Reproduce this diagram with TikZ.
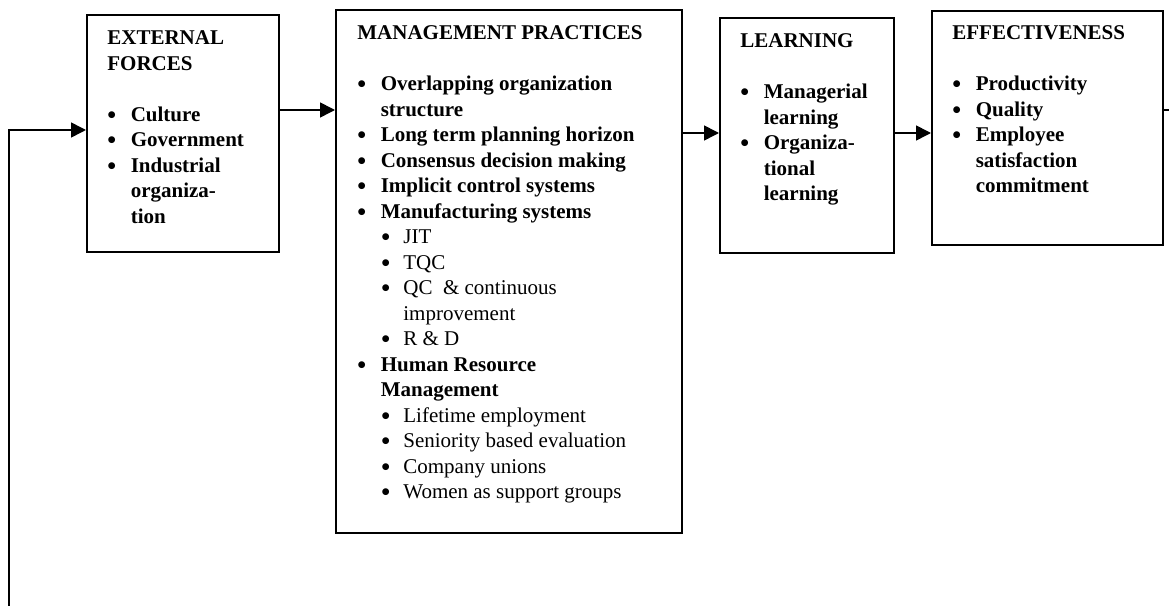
\documentclass[tikz,border=0pt]{standalone}
\usepackage{fontspec}
\usepackage{graphicx}
\setmainfont{Liberation Serif}
\usetikzlibrary{arrows.meta}
\newcommand\bigbul{\raisebox{-1pt}{\scalebox{1.2}{\textbullet}}}
\newcommand\bitem[1]{\makebox[13.4pt][l]{\bigbul}#1}
\newcommand\bcont[1]{\hspace*{13.4pt}#1}
\newcommand\sitem[1]{\hspace*{13.7pt}\makebox[12.6pt][l]{\bigbul}{\mdseries #1}}
\newcommand\scont[1]{\hspace*{26.3pt}{\mdseries #1}}
\begin{document}
\begin{tikzpicture}[x=0.5714pt,y=-0.5714pt,
  box/.style={draw, line width=0.9pt, rectangle, anchor=north west, inner sep=0pt},
  txt/.style={anchor=base west, inner sep=0pt, font=\fontsize{12pt}{14.57pt}\selectfont\bfseries},
  arr/.style={line width=0.9pt, -{Triangle[length=8.5pt,width=8.5pt]}},
  plain/.style={line width=0.9pt}]
\useasboundingbox (0,0) rectangle (1169,606);
% boxes
\node[box, minimum width=192*0.5714pt, minimum height=237*0.5714pt] (ef) at (86,14) {};
\node[box, minimum width=346*0.5714pt, minimum height=523*0.5714pt] (mp) at (335,9) {};
\node[box, minimum width=174*0.5714pt, minimum height=235*0.5714pt] (lr) at (719,17) {};
\node[box, minimum width=231*0.5714pt, minimum height=234*0.5714pt] (eff) at (931,10) {};
% texts
\node[txt] (eftext) at (107,45) {\parbox[t]{180pt}{EXTERNAL\\FORCES\\\mbox{}\\\bitem{Culture}\\\bitem{Government}\\\bitem{Industrial}\\\bcont{organiza-}\\\bcont{tion}}};
\node[txt] (mptext) at (357,40) {\parbox[t]{250pt}{MANAGEMENT PRACTICES\\\mbox{}\\\bitem{Overlapping organization}\\\bcont{structure}\\\bitem{Long term planning horizon}\\\bitem{Consensus decision making}\\\bitem{Implicit control systems}\\\bitem{Manufacturing systems}\\\sitem{JIT}\\\sitem{TQC}\\\sitem{QC\ \ \& continuous}\\\scont{improvement}\\\sitem{R \& D}\\\bitem{Human Resource}\\\bcont{Management}\\\sitem{Lifetime employment}\\\sitem{Seniority based evaluation}\\\sitem{Company unions}\\\sitem{Women as support groups}}};
\node[txt] (lrtext) at (740,48) {\parbox[t]{150pt}{LEARNING\\\mbox{}\\\bitem{Managerial}\\\bcont{learning}\\\bitem{Organiza-}\\\bcont{tional}\\\bcont{learning}}};
\node[txt] (efftext) at (952,40) {\parbox[t]{150pt}{EFFECTIVENESS\\\mbox{}\\\bitem{Productivity}\\\bitem{Quality}\\\bitem{Employee}\\\bcont{satisfaction}\\\bcont{commitment}}};
% connectors
\coordinate (ya) at (0,110);
\coordinate (yb) at (0,133);
\coordinate (yc) at (0,130);
\coordinate (out) at (1169,110);
\coordinate (fbs) at (9,606);
\draw[arr] (ef.east |- ya) -- (mp.west |- ya);
\draw[arr] (mp.east |- yb) -- (lr.west |- yb);
\draw[arr] (lr.east |- yb) -- (eff.west |- yb);
\draw[plain] (eff.east |- ya) -- (out);
\draw[arr] (fbs) |- (ef.west |- yc);
\end{tikzpicture}
\end{document}
